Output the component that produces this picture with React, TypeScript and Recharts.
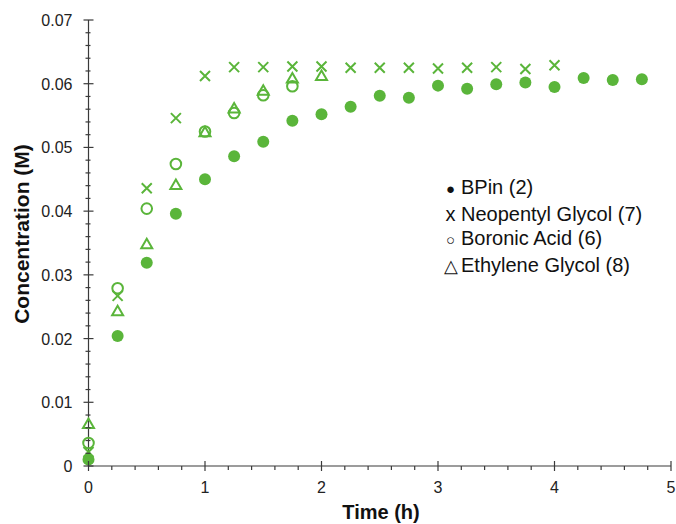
import React from 'react'
import { ScatterChart, Scatter, XAxis, YAxis, Legend } from 'recharts'

// sampling times (h), every 15 min
const times = [0, 0.25, 0.5, 0.75, 1, 1.25, 1.5, 1.75, 2, 2.25, 2.5, 2.75, 3, 3.25, 3.5, 3.75, 4, 4.25, 4.5, 4.75]

const bpin = [0.001, 0.0204, 0.0319, 0.0396, 0.045, 0.0486, 0.0509, 0.0542, 0.0552, 0.0564, 0.0581, 0.0578, 0.0597, 0.0592, 0.0599, 0.0602, 0.0595, 0.0609, 0.0606, 0.0607]
const neopentyl = [0.0022, 0.0267, 0.0436, 0.0546, 0.0612, 0.0626, 0.0626, 0.0627, 0.0627, 0.0625, 0.0625, 0.0625, 0.0624, 0.0625, 0.0626, 0.0623, 0.0629]
const boronic = [0.0036, 0.0279, 0.0404, 0.0474, 0.0525, 0.0554, 0.0582, 0.0596]
const ethylene = [0.0066, 0.0243, 0.0348, 0.0441, 0.0524, 0.0561, 0.0589, 0.0608, 0.0612]

const xMajor = [0, 1, 2, 3, 4, 5]
const yMajor = [0, 0.01, 0.02, 0.03, 0.04, 0.05, 0.06, 0.07]
const yLabels = ['0', '0.01', '0.02', '0.03', '0.04', '0.05', '0.06', '0.07']

const legendItems = [
  { mark: '●', size: 15, name: 'BPin (2)' },
  { mark: 'x', size: 20, name: 'Neopentyl Glycol (7)' },
  { mark: '○', size: 15, name: 'Boronic Acid (6)' },
  { mark: '△', size: 18, name: 'Ethylene Glycol (8)' },
]

const green = '#5ab53a'
const axisColor = '#3a3a3a'
const font = '"Liberation Sans", Arial, sans-serif'

const toPoints = (vals: number[]) => vals.map((c, i) => ({ t: times[i], c }))

// minor ticks every 0.2 h and 0.002 M
const xTicks = Array.from({ length: 26 }, (_, i) => Math.round(i * 2) / 10)
const yTicks = Array.from({ length: 36 }, (_, i) => Math.round(i * 2) / 1000)

const isMajorX = (v: number) => xMajor.some(m => Math.abs(m - v) < 1e-6)
const majorYIndex = (v: number) => yMajor.findIndex(m => Math.abs(m - v) < 1e-7)

const XTick = (props: any) => {
  const { x, y, payload } = props
  const major = isMajorX(payload.value)
  return (
    <g>
      <line x1={x} x2={x} y1={major ? y - 5 : y} y2={y + (major ? 5 : 4)} stroke={axisColor} strokeWidth={1.2} />
      {major && (
        <text x={x} y={y + 27} textAnchor="middle" fill="#222" fontSize={16} fontFamily={font}>
          {payload.value}
        </text>
      )}
    </g>
  )
}

const YTick = (props: any) => {
  const { x, y, payload } = props
  const idx = majorYIndex(payload.value)
  const major = idx >= 0
  return (
    <g>
      <line x1={x - (major ? 5 : 3)} x2={x + (major ? 5 : 2)} y1={y} y2={y} stroke={axisColor} strokeWidth={1.2} />
      {major && (
        <text x={x - 16} y={y + 6} textAnchor="end" fill="#222" fontSize={16} fontFamily={font}>
          {yLabels[idx]}
        </text>
      )}
    </g>
  )
}

const Dot = (p: any) => <circle cx={p.cx} cy={p.cy} r={6} fill={green} />
const Ring = (p: any) => <circle cx={p.cx} cy={p.cy} r={5.3} fill="none" stroke={green} strokeWidth={2} />
const Cross = (p: any) => (
  <path d={`M${p.cx - 5},${p.cy - 5}L${p.cx + 5},${p.cy + 5}M${p.cx - 5},${p.cy + 5}L${p.cx + 5},${p.cy - 5}`} stroke={green} strokeWidth={2} fill="none" />
)
const Tri = (p: any) => (
  <path d={`M${p.cx},${p.cy - 5.5}L${p.cx + 5.5},${p.cy + 4}L${p.cx - 5.5},${p.cy + 4}Z`} stroke={green} strokeWidth={2} fill="none" strokeLinejoin="miter" />
)

const LegendBox = () => (
  <div style={{ fontFamily: font, fontSize: 20, color: '#111', lineHeight: '24.7px' }}>
    {legendItems.map(item => (
      <div key={item.name} style={{ whiteSpace: 'nowrap' }}>
        <span style={{ display: 'inline-block', width: 15, textAlign: 'center', marginRight: 3, fontSize: item.size }}>{item.mark}</span>
        {item.name}
      </div>
    ))}
  </div>
)

export default function App() {
  return (
    <div style={{ position: 'fixed', left: 0, top: 0, width: 676, height: 524, background: '#fff' }}>
      <ScatterChart width={676} height={524} margin={{ top: 20, right: 5, left: 0, bottom: 8 }}>
        <XAxis
          type="number"
          dataKey="t"
          domain={[0, 5]}
          ticks={xTicks}
          interval={0}
          tickSize={0}
          tickMargin={0}
          height={50}
          stroke={axisColor}
          strokeWidth={1.2}
          tick={<XTick />}
          label={{
            content: () => (
              <text x={381} y={519} textAnchor="middle" fontSize={20} fontWeight="bold" fontFamily={font} fill="#111">
                Time (h)
              </text>
            ),
          }}
        />
        <YAxis
          type="number"
          dataKey="c"
          domain={[0, 0.07]}
          ticks={yTicks}
          interval={0}
          tickSize={0}
          tickMargin={0}
          width={88.5}
          stroke={axisColor}
          strokeWidth={1.2}
          tick={<YTick />}
          label={{
            content: () => (
              <text x={29} y={234} transform="rotate(-90 29 234)" textAnchor="middle" fontSize={21} fontWeight="bold" fontFamily={font} fill="#111">
                Concentration (M)
              </text>
            ),
          }}
        />
        <Legend
          layout="vertical"
          align="center"
          verticalAlign="middle"
          content={<LegendBox />}
          wrapperStyle={{ left: 443, top: 175, width: 'auto' }}
        />
        <Scatter name="BPin (2)" data={toPoints(bpin)} shape={Dot} isAnimationActive={false} />
        <Scatter name="Neopentyl Glycol (7)" data={toPoints(neopentyl)} shape={Cross} isAnimationActive={false} />
        <Scatter name="Boronic Acid (6)" data={toPoints(boronic)} shape={Ring} isAnimationActive={false} />
        <Scatter name="Ethylene Glycol (8)" data={toPoints(ethylene)} shape={Tri} isAnimationActive={false} />
      </ScatterChart>
    </div>
  )
}
